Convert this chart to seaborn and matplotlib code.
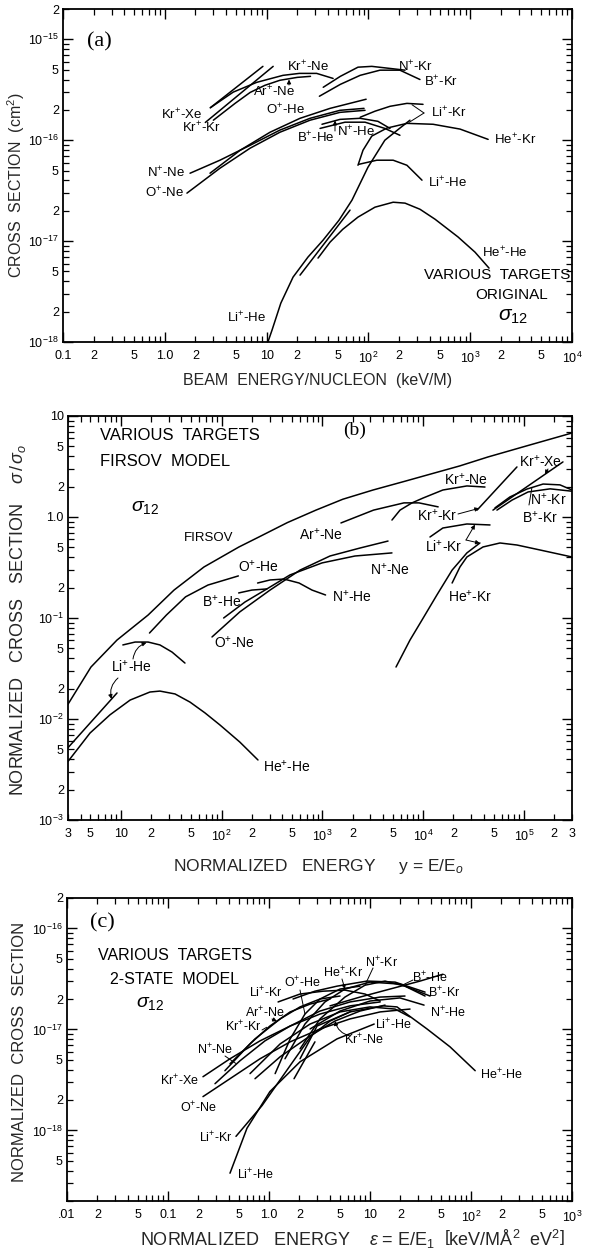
import matplotlib
matplotlib.use("Agg")
import matplotlib.pyplot as plt
from matplotlib.ticker import FixedLocator, FixedFormatter
import seaborn as sns

# ---------------- (a) original sigma_12 : beam energy / nucleon (keV/M) vs cm^2
A_KRXE_E = [2.8, 9.2]
A_KRXE_S = [2.1e-16, 5.4e-16]
A_KRKR_E = [2.5, 11.6]
A_KRKR_S = [1.5e-16, 5.4e-16]
A_KRNE_E = [2.8, 4.7, 8.0, 14.5, 21, 31, 45]
A_KRNE_S = [2.1e-16, 3.0e-16, 3.75e-16, 4.4e-16, 4.6e-16, 4.6e-16, 4.1e-16]
A_ARNE_E = [3.0, 4.9, 6.9, 9.6, 13.5, 20, 27]
A_ARNE_S = [1.58e-16, 2.32e-16, 2.98e-16, 3.5e-16, 3.93e-16, 4.2e-16, 4.3e-16]
A_NKR_E = [36, 53, 79, 108, 163, 229]
A_NKR_S = [3.35e-16, 4.3e-16, 5.3e-16, 5.4e-16, 5.15e-16, 4.95e-16]
A_BKR_E = [33, 53, 83, 130, 204, 321]
A_BKR_S = [2.73e-16, 3.58e-16, 4.4e-16, 4.95e-16, 4.95e-16, 4.0e-16]
A_OHE_E = [2.78, 5.5, 10.8, 21.3, 42, 95]
A_OHE_S = [4.71e-17, 7.96e-17, 1.2e-16, 1.65e-16, 2.07e-16, 2.55e-16]
A_NNE_E = [1.77, 3.48, 6.87, 13.5, 26.7, 52.6, 90.6]
A_NNE_S = [4.71e-17, 6.34e-17, 8.9e-17, 1.26e-16, 1.65e-16, 1.98e-16, 2.07e-16]
A_ONE_E = [1.65, 3.48, 6.87, 13.5, 26.7, 52.6, 92.7]
A_ONE_S = [2.99e-17, 5.28e-17, 8.33e-17, 1.2e-16, 1.58e-16, 1.89e-16, 1.98e-16]
A_BHE_E = [35, 52.6, 82.8, 124, 163]
A_BHE_S = [1.44e-16, 1.61e-16, 1.65e-16, 1.54e-16, 1.31e-16]
A_NHE_E = [33.5, 58.9, 92.7, 145, 204]
A_NHE_S = [1.31e-16, 1.51e-16, 1.51e-16, 1.31e-16, 1.12e-16]
A_LIKR_E = [83, 116, 163, 239, 344]
A_LIKR_S = [1.69e-16, 1.94e-16, 2.17e-16, 2.32e-16, 2.27e-16]
A_HEKR_E = [79, 88.5, 108, 152, 239, 432, 795, 1500]
A_HEKR_S = [5.65e-17, 7.96e-17, 1.1e-16, 1.32e-16, 1.47e-16, 1.44e-16, 1.29e-16, 1.02e-16]
A_LIHE_E = [81, 121, 175, 239, 336]
A_LIHE_S = [5.78e-17, 6.34e-17, 6.34e-17, 5.65e-17, 4.02e-17]
A_LIHE2_E = [10.3, 11.3, 13.8, 18.2, 25.5, 35.8, 51.4, 69, 99, 145, 204, 256]
A_LIHE2_S = [1.0e-18, 1.31e-18, 2.43e-18, 4.4e-18, 6.95e-18, 1.02e-17, 1.61e-17,
             2.55e-17, 5.4e-17, 1.0e-16, 1.32e-16, 1.58e-16]
A_HEHE2_E = [21.3, 66]
A_HEHE2_S = [4.6e-18, 2.03e-17]
A_HEHE_E = [32, 42, 56, 79, 116, 175, 229, 321, 451, 759, 1114, 1531]
A_HEHE_S = [6.79e-18, 9.77e-18, 1.31e-17, 1.73e-17, 2.17e-17, 2.43e-17, 2.38e-17,
            2.07e-17, 1.65e-17, 1.1e-17, 7.78e-18, 5.4e-18]

# ---------------- (b) Firsov model : y = E/E0 vs sigma/sigma0
B_FIRSOV_Y = [3.0, 5.07, 9.19, 18.7, 33.8, 67, 149, 235, 450, 865, 1600, 3184,
              6500, 1.2e4, 2.3e4, 4.4e4, 1.05e5, 3.0e5]
B_FIRSOV_S = [1.4e-2, 3.27e-2, 6.05e-2, 0.107, 0.189, 0.32, 0.505, 0.634, 0.88, 1.17,
              1.5, 1.85, 2.25, 2.67, 3.2, 3.93, 5.04, 6.79]
B_LIHE2_Y = [3.0, 9.19]
B_LIHE2_S = [5.2e-3, 1.81e-2]
B_LIHE_Y = [10.5, 13.9, 18.7, 24.5, 32.3, 43.4]
B_LIHE_S = [5.41e-2, 5.78e-2, 5.78e-2, 5.41e-2, 4.6e-2, 3.58e-2]
B_HEHE_Y = [3.0, 4.96, 7.83, 12.4, 19.5, 24.5, 34.6, 48.7, 68.5, 96.6, 152, 230]
B_HEHE_S = [3.8e-3, 7.26e-3, 1.1e-2, 1.54e-2, 1.85e-2, 1.89e-2, 1.77e-2, 1.47e-2,
            1.15e-2, 8.72e-3, 5.91e-3, 3.93e-3]
B_OHE_Y = [19.3, 28.4, 44, 73.4, 147]
B_OHE_S = [7.1e-2, 0.107, 0.162, 0.212, 0.261]
B_BHE_Y = [148, 200, 282]
B_BHE_S = [0.177, 0.189, 0.194]
B_ONE_Y = [80.5, 152, 303, 601, 1192, 2366, 4487]
B_ONE_S = [6.49e-2, 0.115, 0.189, 0.298, 0.411, 0.493, 0.578]
B_NNE_Y = [105, 171, 270, 478, 993, 2110, 4909]
B_NNE_S = [0.1, 0.144, 0.189, 0.267, 0.351, 0.411, 0.441]
B_NHE_Y = [228, 303, 417, 588, 791, 1077]
B_NHE_S = [0.222, 0.238, 0.243, 0.222, 0.189, 0.169]
B_ARNE_Y = [1531, 3223, 6457, 9100, 1.41e4]
B_ARNE_S = [0.873, 1.17, 1.38, 1.38, 1.26]
B_KRNE_Y = [4909, 5902, 7763, 9977, 1.57e4, 2.72e4, 4.11e4]
B_KRNE_S = [0.933, 1.17, 1.38, 1.54, 1.85, 2.03, 1.98]
B_KRKR_Y = [3.43e4, 8.53e4]
B_KRKR_S = [1.17, 3.13]
B_KRXE_Y = [4.93e4, 2.44e5]
B_KRXE_S = [1.17, 3.51]
B_NKR_Y = [5.16e4, 7.27e4, 1.07e5, 1.55e5, 2.28e5, 3.0e5]
B_NKR_S = [1.23, 1.58, 1.89, 2.12, 2.08, 1.85]
B_BKR_Y = [5.4e4, 7.62e4, 1.1e5, 1.82e5, 3.0e5]
B_BKR_S = [1.17, 1.47, 1.77, 1.9, 1.8]
B_LIKR_Y = [1.17e4, 1.57e4, 2.72e4, 4.61e4]
B_LIKR_S = [0.634, 0.778, 0.853, 0.834]
B_LIKR2_Y = [5385, 7413, 9750, 1.37e4, 1.94e4, 2.72e4, 3.66e4]
B_LIKR2_S = [3.27e-2, 6.05e-2, 9.55e-2, 0.169, 0.298, 0.441, 0.553]
B_HEKR_Y = [1.94e4, 2.32e4, 2.72e4, 3.93e4, 5.79e4, 8.53e4, 1.45e5, 3.0e5]
B_HEKR_S = [0.222, 0.32, 0.402, 0.505, 0.553, 0.528, 0.471, 0.402]

# ---------------- (c) 2-state model : eps = E/E1 vs normalized sigma_12
C_KRXE_E = [0.222, 0.411, 0.815, 1.62, 3.2, 6.34, 12.6]
C_KRXE_S = [3.4e-18, 5.12e-18, 7.7e-18, 1.08e-17, 1.42e-17, 1.71e-17, 1.87e-17]
C_ONE_E = [0.222, 0.411, 0.815, 1.62, 3.2, 6.34, 12.6, 24.9]
C_ONE_S = [2.16e-18, 3.25e-18, 5.12e-18, 7.53e-18, 1.01e-17, 1.27e-17, 1.49e-17, 1.59e-17]
C_NNE_E = [0.292, 0.516, 0.912, 1.62, 3.2, 6.34, 12.6, 22.2]
C_NNE_S = [2.9e-18, 4.89e-18, 7.7e-18, 1.08e-17, 1.52e-17, 1.87e-17, 2.09e-17, 2.14e-17]
C_KRKR_E = [0.366, 0.649, 1.02, 1.62, 2.55, 4.02]
C_KRKR_S = [3.9e-18, 7.19e-18, 1.08e-17, 1.49e-17, 1.78e-17, 2.0e-17]
C_ARNE_E = [0.411, 0.727, 1.29, 2.03, 3.2, 5.05]
C_ARNE_S = [4.57e-18, 8.05e-18, 1.27e-17, 1.67e-17, 2.0e-17, 2.14e-17]
C_LIKR_E = [1.23, 2.03, 3.43, 5.65, 8.92, 12.6]
C_LIKR_S = [1.87e-17, 2.24e-17, 2.39e-17, 2.45e-17, 2.24e-17, 1.91e-17]
C_OHE_E = [1.15, 1.62, 2.27, 3.2, 5.05, 7.96]
C_OHE_S = [3.65e-18, 8.05e-18, 1.42e-17, 2.0e-17, 2.51e-17, 2.68e-17]
C_HEKR_E = [1.44, 2.27, 3.58, 5.65, 10, 19.8, 39.3]
C_HEKR_S = [5.12e-18, 1.13e-17, 1.87e-17, 2.51e-17, 2.94e-17, 2.81e-17, 2.14e-17]
C_NKR_E = [2.03, 3.2, 5.65, 8.92, 14.1, 22.2, 35.1]
C_NKR_S = [6.42e-18, 1.27e-17, 2.09e-17, 2.74e-17, 3.01e-17, 2.68e-17, 2.14e-17]
C_BHE_E = [4.02, 7.96, 15.8, 31.3, 52.8]
C_BHE_S = [1.71e-17, 2.09e-17, 2.51e-17, 3.01e-17, 3.52e-17]
C_BKR_E = [1.73, 2.85, 4.71, 9.34, 17.7, 35.1]
C_BKR_S = [2.0e-17, 2.39e-17, 2.68e-17, 3.01e-17, 2.94e-17, 2.34e-17]
C_NHE_E = [2.55, 5.05, 10, 19.8, 34.3]
C_NHE_S = [1.01e-17, 1.52e-17, 1.91e-17, 2.05e-17, 1.74e-17]
C_LIHE_E = [0.649, 1.29, 2.55, 5.05, 10, 17.7, 24.9]
C_LIHE_S = [3.65e-18, 7.19e-18, 1.13e-17, 1.49e-17, 1.67e-17, 1.59e-17, 1.33e-17]
C_KRNE_E = [0.727, 1.29, 2.55, 4.5, 7.96, 14.1]
C_KRNE_S = [3.25e-18, 5.36e-18, 8.62e-18, 1.21e-17, 1.52e-17, 1.74e-17]
C_KRNE2_E = [1.77, 2.85]
C_KRNE2_S = [3.25e-18, 7.53e-18]
C_HEHE_E = [2.03, 2.99, 6.34, 13.5, 18.5, 36.7, 62, 110]
C_HEHE_S = [5.12e-18, 1.08e-17, 1.49e-17, 1.71e-17, 1.67e-17, 1.01e-17, 6.72e-18, 3.9e-18]
C_LIKR2_E = [0.471, 0.853, 1.54, 2.61, 4.02, 6.34]
C_LIKR2_S = [8.73e-19, 1.76e-18, 4.08e-18, 8.62e-18, 1.21e-17, 1.49e-17]
C_LIHE2_E = [0.411, 0.605, 1.02, 2.03, 4.71, 11]
C_LIHE2_S = [3.77e-19, 1.05e-18, 2.42e-18, 4.78e-18, 8.05e-18, 1.13e-17]

# ---------------- axis ticks
A_XMAJOR = [0.1, 1, 10, 100, 1000, 10000]
A_XMAJOR_LAB = ['0.1', '1.0', '10', '$10^2$', '$10^3$', '$10^4$']
A_YMAJOR = [1e-18, 1e-17, 1e-16, 1e-15]
A_YMAJOR_LAB = ['$10^{-18}$', '$10^{-17}$', '$10^{-16}$', '$10^{-15}$']
B_XMAJOR = [10, 100, 1000, 1e4, 1e5]
B_XMAJOR_LAB = ['10', '$10^2$', '$10^3$', '$10^4$', '$10^5$']
B_YMAJOR = [1e-3, 1e-2, 1e-1, 1, 10]
B_YMAJOR_LAB = ['$10^{-3}$', '$10^{-2}$', '$10^{-1}$', '1.0', '10']
C_XMAJOR = [0.01, 0.1, 1, 10, 100, 1000]
C_XMAJOR_LAB = ['.01', '0.1', '1.0', '10', '$10^2$', '$10^3$']
C_YMAJOR = [1e-18, 1e-17, 1e-16]
C_YMAJOR_LAB = ['$10^{-18}$', '$10^{-17}$', '$10^{-16}$']

# ---------------- styling
sns.set_theme(style="ticks")
plt.rcParams['font.family'] = ['Liberation Sans', 'DejaVu Sans']
plt.rcParams['mathtext.fontset'] = 'custom'
plt.rcParams['mathtext.rm'] = 'Liberation Sans'
plt.rcParams['mathtext.it'] = 'Liberation Sans:italic'
plt.rcParams['mathtext.bf'] = 'Liberation Sans:bold'
plt.rcParams['mathtext.sf'] = 'Liberation Sans'
plt.rcParams['axes.linewidth'] = 1.2
plt.rcParams['axes.edgecolor'] = 'black'

W, H = 591, 1256
fig = plt.figure(figsize=(W / 100, H / 100), dpi=100)
fig.patch.set_facecolor('white')


def box(left, top, right, bottom):
    return [left / W, 1 - bottom / H, (right - left) / W, (bottom - top) / H]


def fpos(px, py):
    return (px / W, 1 - py / H)


def minor_ticks(lo, hi, first_exp, last_exp, skip_label=()):
    pos, lab = [], []
    for e in range(first_exp, last_exp + 1):
        for m in range(2, 10):
            v = m * 10.0 ** e
            if v < lo * 0.999 or v > hi * 1.001:
                continue
            pos.append(v)
            edge = abs(v / lo - 1) < 1e-6 or abs(v / hi - 1) < 1e-6
            show = (m in (2, 5) or edge) and not any(abs(v / s - 1) < 1e-6 for s in skip_label)
            lab.append(str(m) if show else '')
    return pos, lab


def setup(ax, xlim, ylim, xmaj, xmaj_lab, ymaj, ymaj_lab, xexp, yexp, yskip=()):
    ax.set_xscale('log')
    ax.set_yscale('log')
    ax.set_xlim(*xlim)
    ax.set_ylim(*ylim)
    ax.xaxis.set_major_locator(FixedLocator(xmaj))
    ax.xaxis.set_major_formatter(FixedFormatter(xmaj_lab))
    xp, xl = minor_ticks(xlim[0], xlim[1], xexp[0], xexp[1])
    ax.xaxis.set_minor_locator(FixedLocator(xp))
    ax.xaxis.set_minor_formatter(FixedFormatter(xl))
    ax.yaxis.set_major_locator(FixedLocator(ymaj))
    ax.yaxis.set_major_formatter(FixedFormatter(ymaj_lab))
    yp, yl = minor_ticks(ylim[0], ylim[1], yexp[0], yexp[1], yskip)
    ax.yaxis.set_minor_locator(FixedLocator(yp))
    ax.yaxis.set_minor_formatter(FixedFormatter(yl))
    ax.tick_params(which='both', direction='in', top=True, right=True,
                   labelsize=9, colors='black')
    ax.tick_params(axis='x', which='both', pad=6)
    ax.tick_params(axis='y', which='both', pad=3)
    ax.tick_params(which='major', length=7, width=1.0)
    ax.tick_params(which='minor', length=4.5, width=0.9)
    ax.set_facecolor('white')
    for s in ax.spines.values():
        s.set_linewidth(1.3)
        s.set_color('black')


def curve(ax, xs, ys):
    sns.lineplot(x=xs, y=ys, ax=ax, color='black', linewidth=1.1,
                 sort=False, estimator=None)


def ion(a, b):
    return a + r'$^{+}$-' + b


def tag(px, py, s, size=9, **kw):
    fig.text(*fpos(px, py), s, ha=kw.pop('ha', 'center'), va='center',
             fontsize=size, color='black', **kw)


def pointer(ax, xy, px, py, head=True, rad=0.0):
    ax.annotate('', xy=xy, xycoords='data', xytext=fpos(px, py),
                textcoords='figure fraction',
                arrowprops=dict(arrowstyle='-|>' if head else '-', lw=0.7,
                                color='black', shrinkA=0, shrinkB=0,
                                mutation_scale=6,
                                connectionstyle=f'arc3,rad={rad}'))


# ================= panel (a)
ax_a = fig.add_axes(box(63, 9, 572, 342))
setup(ax_a, (0.1, 1e4), (1e-18, 2e-15), A_XMAJOR, A_XMAJOR_LAB,
      A_YMAJOR, A_YMAJOR_LAB, (-1, 3), (-18, -15))
for xs, ys in [(A_KRXE_E, A_KRXE_S), (A_KRKR_E, A_KRKR_S), (A_KRNE_E, A_KRNE_S),
               (A_ARNE_E, A_ARNE_S), (A_NKR_E, A_NKR_S), (A_BKR_E, A_BKR_S),
               (A_OHE_E, A_OHE_S), (A_NNE_E, A_NNE_S), (A_ONE_E, A_ONE_S),
               (A_BHE_E, A_BHE_S), (A_NHE_E, A_NHE_S), (A_LIKR_E, A_LIKR_S),
               (A_HEKR_E, A_HEKR_S), (A_LIHE_E, A_LIHE_S), (A_LIHE2_E, A_LIHE2_S),
               (A_HEHE2_E, A_HEHE2_S), (A_HEHE_E, A_HEHE_S)]:
    curve(ax_a, xs, ys)

tag(99, 42, '(a)', size=16, family='Liberation Serif')
for s, px, py in [(ion('Kr', 'Ne'), 308, 67), (ion('Ar', 'Ne'), 274, 92),
                  (ion('N', 'Kr'), 415, 67), (ion('B', 'Kr'), 441, 82),
                  (ion('Kr', 'Xe'), 182, 115), (ion('Kr', 'Kr'), 201, 128),
                  (ion('O', 'He'), 285, 110), (ion('Li', 'Kr'), 449, 113),
                  (ion('B', 'He'), 316, 138), (ion('N', 'He'), 356, 132),
                  (ion('He', 'Kr'), 515, 140), (ion('N', 'Ne'), 166, 173),
                  (ion('O', 'Ne'), 164, 193), (ion('Li', 'He'), 447, 183),
                  (ion('He', 'He'), 505, 253), (ion('Li', 'He'), 246, 318)]:
    tag(px, py, s, size=9.5)
tag(497, 275, 'VARIOUS  TARGETS', size=11)
tag(512, 295, 'ORIGINAL', size=11)
tag(513, 316, r'$\sigma_{12}$', size=15)
pointer(ax_a, (16.6, 4.0e-16), 289, 85)
pointer(ax_a, (47, 1.57e-16), 335, 131)
pointer(ax_a, (268, 2.25e-16), 424, 113, head=False)
pointer(ax_a, (250, 1.5e-16), 424, 113, head=False)

fig.text(*fpos(16, 185), r'CROSS  SECTION  (cm$^2$)', rotation=90,
         ha='center', va='center', fontsize=11.5)
fig.text(*fpos(318, 380), 'BEAM  ENERGY/NUCLEON  (keV/M)',
         ha='center', va='center', fontsize=11.5)

# ================= panel (b)
ax_b = fig.add_axes(box(68, 416, 572, 820))
setup(ax_b, (3, 3e5), (1e-3, 10), B_XMAJOR, B_XMAJOR_LAB,
      B_YMAJOR, B_YMAJOR_LAB, (0, 5), (-3, 0))
for xs, ys in [(B_FIRSOV_Y, B_FIRSOV_S), (B_LIHE2_Y, B_LIHE2_S), (B_LIHE_Y, B_LIHE_S),
               (B_HEHE_Y, B_HEHE_S), (B_OHE_Y, B_OHE_S), (B_BHE_Y, B_BHE_S),
               (B_ONE_Y, B_ONE_S), (B_NNE_Y, B_NNE_S), (B_NHE_Y, B_NHE_S),
               (B_ARNE_Y, B_ARNE_S), (B_KRNE_Y, B_KRNE_S), (B_KRKR_Y, B_KRKR_S),
               (B_KRXE_Y, B_KRXE_S), (B_NKR_Y, B_NKR_S), (B_BKR_Y, B_BKR_S),
               (B_LIKR_Y, B_LIKR_S), (B_LIKR2_Y, B_LIKR2_S), (B_HEKR_Y, B_HEKR_S)]:
    curve(ax_b, xs, ys)

tag(100, 435, 'VARIOUS  TARGETS', size=12, ha='left')
tag(100, 462, 'FIRSOV  MODEL', size=12, ha='left')
tag(355, 430, '(b)', size=14, family='Liberation Serif')
tag(145, 507, r'$\sigma_{12}$', size=14)
tag(209, 538, 'FIRSOV', size=9.5)
for s, px, py in [(ion('Ar', 'Ne'), 321, 535), (ion('Kr', 'Ne'), 466, 480),
                  (ion('Kr', 'Kr'), 437, 516), (ion('Kr', 'Xe'), 541, 462),
                  (ion('N', 'Kr'), 548, 500), (ion('B', 'Kr'), 540, 518),
                  (ion('Li', 'Kr'), 444, 547), (ion('He', 'Kr'), 470, 597),
                  (ion('O', 'He'), 258, 567), (ion('B', 'He'), 222, 602),
                  (ion('N', 'He'), 352, 597), (ion('N', 'Ne'), 390, 570),
                  (ion('O', 'Ne'), 234, 643), (ion('Li', 'He'), 131, 667),
                  (ion('He', 'He'), 287, 767)]:
    tag(px, py, s, size=10)
pointer(ax_b, (3.6e4, 1.22), 458, 514)
pointer(ax_b, (1.62e5, 2.64), 548, 469)
pointer(ax_b, (1.2e5, 1.95), 529, 505, head=False)
pointer(ax_b, (3.27e4, 0.84), 466, 540)
pointer(ax_b, (3.66e4, 0.55), 466, 540)
pointer(ax_b, (18, 5.7e-2), 133, 659, rad=-0.3)
pointer(ax_b, (8.1, 1.58e-2), 118, 678, rad=0.3)

fig.text(*fpos(18, 620), r'NORMALIZED   CROSS   SECTION    $\sigma\,/\,\sigma_o$',
         rotation=90, ha='center', va='center', fontsize=13)
fig.text(*fpos(318, 866), r'NORMALIZED   ENERGY     y = E/E$_o$',
         ha='center', va='center', fontsize=12.5)

# ================= panel (c)
ax_c = fig.add_axes(box(67, 898, 572, 1201))
setup(ax_c, (0.01, 1e3), (2e-19, 2e-16), C_XMAJOR, C_XMAJOR_LAB,
      C_YMAJOR, C_YMAJOR_LAB, (-2, 2), (-19, -16), yskip=(2e-19,))
for xs, ys in [(C_KRXE_E, C_KRXE_S), (C_ONE_E, C_ONE_S), (C_NNE_E, C_NNE_S),
               (C_KRKR_E, C_KRKR_S), (C_ARNE_E, C_ARNE_S), (C_LIKR_E, C_LIKR_S),
               (C_OHE_E, C_OHE_S), (C_HEKR_E, C_HEKR_S), (C_NKR_E, C_NKR_S),
               (C_BHE_E, C_BHE_S), (C_BKR_E, C_BKR_S), (C_NHE_E, C_NHE_S),
               (C_LIHE_E, C_LIHE_S), (C_KRNE_E, C_KRNE_S), (C_KRNE2_E, C_KRNE2_S),
               (C_HEHE_E, C_HEHE_S), (C_LIKR2_E, C_LIKR2_S), (C_LIHE2_E, C_LIHE2_S)]:
    curve(ax_c, xs, ys)

tag(102, 923, '(c)', size=16, family='Liberation Serif')
tag(98, 955, 'VARIOUS  TARGETS', size=11.5, ha='left')
tag(110, 979, '2-STATE  MODEL', size=11.5, ha='left')
tag(150, 1003, r'$\sigma_{12}$', size=14)
for s, px, py in [(ion('Li', 'Kr'), 266, 993), (ion('O', 'He'), 302, 983),
                  (ion('He', 'Kr'), 343, 973), (ion('N', 'Kr'), 382, 963),
                  (ion('B', 'He'), 430, 978), (ion('B', 'Kr'), 444, 993),
                  (ion('N', 'He'), 448, 1013), (ion('Ar', 'Ne'), 265, 1013),
                  (ion('Kr', 'Kr'), 243, 1027), (ion('Li', 'He'), 393, 1025),
                  (ion('Kr', 'Ne'), 364, 1040), (ion('N', 'Ne'), 215, 1050),
                  (ion('Kr', 'Xe'), 179, 1081), (ion('O', 'Ne'), 198, 1108),
                  (ion('Li', 'Kr'), 216, 1138), (ion('Li', 'He'), 255, 1175),
                  (ion('He', 'He'), 502, 1075)]:
    tag(px, py, s, size=9)
pointer(ax_c, (0.47, 4.6e-18), 225, 1056, head=False)
pointer(ax_c, (0.95, 1.05e-17), 262, 1030, head=False)
pointer(ax_c, (1.2, 1.2e-17), 272, 1019)
pointer(ax_c, (2.27, 1.42e-17), 300, 990, head=False)
pointer(ax_c, (5.65, 2.51e-17), 342, 979)
pointer(ax_c, (8.92, 2.74e-17), 373, 968, head=False)
pointer(ax_c, (21, 2.75e-17), 413, 980, head=False)
pointer(ax_c, (4.5, 1.21e-17), 350, 1036, rad=-0.3)

fig.text(*fpos(20, 1052), 'NORMALIZED  CROSS  SECTION', rotation=90,
         ha='center', va='center', fontsize=12)
fig.text(*fpos(352, 1239),
         r'NORMALIZED   ENERGY    $\epsilon$ = E/E$_1$  $\left[\mathrm{keV/M\AA^2\ \ eV^2}\right]$',
         ha='center', va='center', fontsize=13)

fig.savefig('out.png', dpi=100, facecolor='white')
